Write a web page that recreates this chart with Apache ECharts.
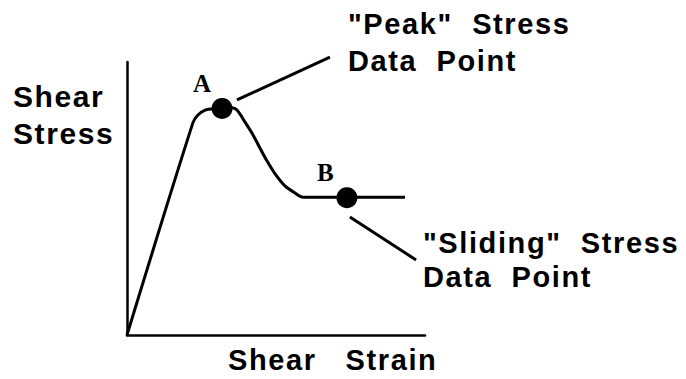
<!DOCTYPE html>
<html>
<head>
<meta charset="utf-8">
<script src="https://cdn.jsdelivr.net/npm/echarts@6/dist/echarts.min.js"></script>
<style>
  html, body { margin: 0; padding: 0; background: #fff; }
  /* the labels in the source are set with wide tracking */
  #main { width: 686px; height: 379px; letter-spacing: 1.6px; }
</style>
</head>
<body>
<div id="main"></div>
<script>
// shear strain (x) / shear stress (y), arbitrary 0-100 units
var strain = [0, 22.1, 23.8, 26.2, 28.5, 31.9, 35.2, 36.9, 39.6, 42.3, 44.6, 47.0, 49.7, 53.0, 56.4, 59.1, 62.4, 93.3];
var stress = [0, 77.7, 80.6, 82.4, 82.8, 83.0, 83.2, 82.4, 78.0, 73.3, 68.5, 63.7, 59.0, 54.6, 52.0, 50.5, 50.5, 50.5];

var peakPoint = [31.9, 83.0];     // A
var slidingPoint = [73.8, 50.3];  // B

// leader lines from the points to the notes
var leaderA = [[36.9, 86.1], [68.1, 101.8]];
var leaderB = [[74.8, 43.2], [97.0, 27.5]];

var curve = strain.map(function (x, i) { return [x, stress[i]]; });

var chart = echarts.init(document.getElementById('main'), null, { renderer: 'svg' });

var sansFont = '"Liberation Sans", Arial, sans-serif';
var serifFont = '"Liberation Serif", "Times New Roman", serif';

var option = {
  backgroundColor: '#fff',
  animation: false,
  grid: { left: 127, top: 62, width: 298, height: 273 },
  xAxis: {
    type: 'value', min: 0, max: 100,
    axisLine: { show: true, onZero: false, lineStyle: { color: '#000', width: 2.5 } },
    axisTick: { show: false }, axisLabel: { show: false }, splitLine: { show: false }
  },
  yAxis: {
    type: 'value', min: 0, max: 100,
    axisLine: { show: true, onZero: false, lineStyle: { color: '#000', width: 2.5 } },
    axisTick: { show: false }, axisLabel: { show: false }, splitLine: { show: false }
  },
  series: [
    {
      name: 'curve', type: 'line', data: curve, smooth: 0.3,
      showSymbol: false, clip: false,
      lineStyle: { color: '#000', width: 3 }
    },
    {
      name: 'leaderA', type: 'line', data: leaderA, showSymbol: false, clip: false,
      lineStyle: { color: '#000', width: 3 }
    },
    {
      name: 'leaderB', type: 'line', data: leaderB, showSymbol: false, clip: false,
      lineStyle: { color: '#000', width: 3 }
    },
    {
      name: 'points', type: 'scatter', symbolSize: 21, clip: false,
      itemStyle: { color: '#000', opacity: 1 },
      data: [peakPoint, slidingPoint]
    }
  ],
  graphic: [
    { type: 'text', left: 13, top: 78, style: { text: 'Shear\nStress', font: 'bold 30px ' + sansFont, lineHeight: 37, fill: '#000' } },
    { type: 'text', left: 348, top: 5, style: { text: '"Peak"  Stress\nData  Point', font: 'bold 29px ' + sansFont, lineHeight: 37, fill: '#000' } },
    { type: 'text', left: 423, top: 226, style: { text: '"Sliding"  Stress\nData  Point', font: 'bold 29px ' + sansFont, lineHeight: 34, fill: '#000' } },
    { type: 'text', left: 228, top: 345, style: { text: 'Shear   Strain', font: 'bold 29px ' + sansFont, fill: '#000' } },
    { type: 'text', left: 193, top: 71, style: { text: 'A', font: 'bold 25px ' + serifFont, fill: '#000' } },
    { type: 'text', left: 317, top: 160, style: { text: 'B', font: 'bold 25px ' + serifFont, fill: '#000' } }
  ]
};

chart.setOption(option);
</script>
</body>
</html>
